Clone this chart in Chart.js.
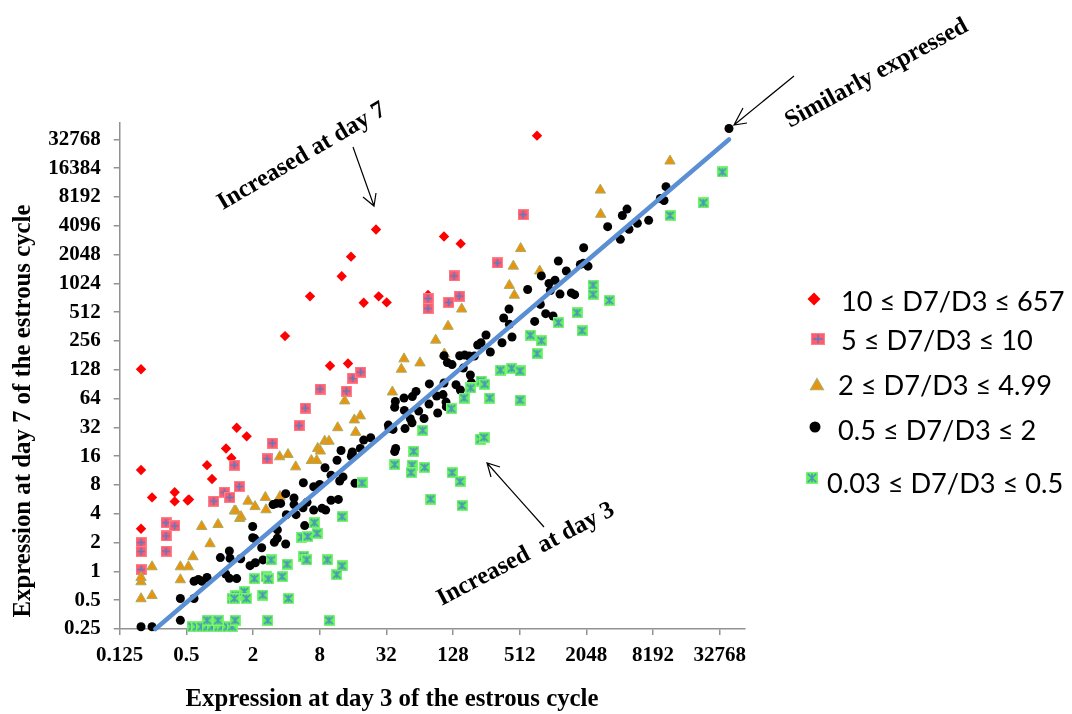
<!DOCTYPE html>
<html>
<head>
<meta charset="utf-8">
<title>Expression at day 3 vs day 7</title>
<script src="https://cdn.jsdelivr.net/npm/chart.js@4"></script>
<style>
    html, body { margin: 0; padding: 0; background: #fff; }
    #wrap { position: relative; width: 1072px; height: 714px; overflow: hidden; filter: blur(0.35px); }
    #canvas { position: absolute; left: 0; top: 0; }
    #arrows { position: absolute; left: 0; top: 0; }
    .note, .axis-title {
        position: absolute;
        font: bold 24.5px "Liberation Serif", serif;
        color: #000;
        white-space: pre;
        transform: translate(-50%, -50%) rotate(var(--turn));
    }
    .axis-title { font-size: 24.8px; }
    .key {
        position: absolute;
        font: 27.2px Lato, sans-serif;
        color: #000;
        white-space: pre;
        transform: translateY(-50%);
    }
</style>
</head>
<body>
<div id="wrap">
    <canvas id="canvas" width="1072" height="714"></canvas>
    <svg id="arrows" width="1072" height="714" fill="none" stroke="#000" stroke-width="1.2">
        <path d="M353 147 L374 206 M363 197 L374 206 L376 193"></path>
        <path d="M794 76 L734 125 M743 108 L734 125 L747 123"></path>
        <path d="M544 527 L487 463 M500 467 L487 463 L491 477"></path>
    </svg>
    <div class="axis-title" style="left:392px;top:698px;--turn:0deg">Expression at day 3 of the estrous cycle</div>
    <div class="axis-title" style="left:22px;top:411px;--turn:-90deg">Expression at day 7 of the estrous cycle</div>
    <div class="note" style="left:301px;top:155px;--turn:-30.5deg">Increased at day 7</div>
    <div class="note" style="left:876px;top:72px;--turn:-28.6deg">Similarly expressed</div>
    <div class="note" style="left:525px;top:553px;--turn:-27.8deg">Increased  at day 3</div>
    <div class="key" style="left:841px;top:300px">10 ≤ D7/D3 ≤ 657</div>
    <div class="key" style="left:841px;top:339px">5 ≤ D7/D3 ≤ 10</div>
    <div class="key" style="left:838px;top:384px">2 ≤ D7/D3 ≤ 4.99</div>
    <div class="key" style="left:838px;top:429px">0.5 ≤ D7/D3 ≤ 2</div>
    <div class="key" style="left:827px;top:482px">0.03 ≤ D7/D3 ≤ 0.5</div>
</div>
<script>
// values, as [log2 day 3, log2 day 7]
const foldOver10 = [
    [-2.36,7.02],[-2.36,3.52],[-2.03,2.57],[-1.35,2.75],[-1.35,2.43],[-0.96,2.46],[-0.92,2.5],[-2.36,1.48],
    [-0.38,3.69],[-0.23,3.21],[0.19,4.27],[0.35,3.94],[0.51,4.99],[0.81,4.69],[1.96,8.17],[2.71,9.55],
    [3.31,7.14],[3.85,7.22],[3.66,10.25],[3.94,10.93],[4.32,9.33],[4.69,11.87],[4.77,9.55],[5.01,9.34],
    [6.25,9.6],[6.73,11.63],[7.23,11.38],[9.52,15.13]
];
const fold5to10 = [
    [-2.36,1.0],[-2.36,0.69],[-2.36,0.06],[-1.61,1.69],[-1.35,1.58],[-1.61,1.23],[-1.61,0.7],[-0.18,2.44],
    [0.14,2.75],[0.3,2.57],[0.44,3.69],[0.59,2.95],[1.42,3.91],[1.58,4.45],[2.38,5.06],[2.57,5.67],
    [3.01,6.33],[3.8,6.26],[3.99,6.71],[4.23,6.92],[6.25,9.48],[6.25,9.13],[6.87,9.34],[7.19,9.56],
    [7.03,10.26],[8.33,10.71],[9.1,12.39]
];
const fold2to5 = [
    [-2.36,-0.36],[-2.36,-0.21],[-2.36,-0.95],[-2.03,0.16],[-2.03,-0.84],[-1.18,0.16],[-0.94,0.16],[-1.18,-0.29],
    [-0.8,0.51],[-0.54,1.56],[-0.29,0.96],[-0.05,1.63],[0.44,2.1],[0.48,2.1],[0.6,1.84],[0.64,1.9],
    [0.85,2.44],[1.06,2.25],[1.37,2.57],[1.39,2.14],[1.81,2.6],[1.8,3.98],[2.05,4.06],[2.28,3.63],
    [2.75,3.85],[2.91,3.85],[2.94,4.27],[3.02,4.18],[3.15,4.52],[3.28,4.52],[3.54,4.99],[3.75,5.92],
    [4.04,5.26],[4.08,4.83],[4.22,5.4],[5.18,6.23],[5.45,7.02],[5.53,7.38],[6.01,7.24],[6.48,8.03],
    [6.74,7.55],[6.85,8.51],[7.26,9.11],[8.69,9.93],[8.84,9.59],[8.81,10.6],[9.03,11.21],[9.6,10.43],
    [11.42,13.24],[11.43,12.4],[13.51,14.25]
];
const foldSimilar = [
    [-2.36,-1.92],[-2.03,-1.92],[-1.18,-1.7],[-1.18,-0.94],[-0.77,-0.94],[-0.77,-0.34],[-0.64,-0.28],[-0.53,-0.34],
    [-0.38,-0.21],[0.02,0.48],[0.29,0.71],[0.31,0.45],[0.18,-0.09],[0.29,-0.24],[0.51,-0.25],[0.63,0.44],
    [0.91,0.2],[1.07,0.3],[1.3,0.4],[1.26,0.82],[0.99,1.17],[1.05,1.14],[0.99,1.56],[1.64,1.01],
    [1.73,1.15],[1.98,0.95],[1.73,1.44],[2.0,1.97],[2.29,1.97],[2.55,1.59],[1.6,2.32],[1.7,2.36],
    [1.83,2.36],[1.98,2.7],[2.23,2.55],[2.23,2.32],[2.5,2.21],[2.62,2.4],[2.51,3.08],[2.82,2.13],
    [3.07,2.19],[3.18,2.13],[3.34,2.47],[3.56,2.5],[2.82,2.94],[3.0,3.02],[3.16,3.6],[3.34,3.34],
    [3.52,3.86],[3.64,4.2],[3.6,3.14],[3.7,3.28],[3.97,4.08],[4.0,3.98],[4.06,3.06],[4.22,4.27],
    [3.98,4.15],[3.95,4.0],[4.32,4.56],[4.53,4.64],[5.06,5.08],[5.2,4.93],[5.08,4.97],[5.56,4.96],
    [5.28,4.27],[5.25,4.16],[5.25,5.7],[5.27,5.9],[5.53,6.02],[5.78,6.07],[5.89,6.25],[5.54,5.59],
    [5.72,5.3],[5.77,5.16],[5.97,5.57],[6.13,5.31],[6.28,5.81],[6.54,5.5],[6.51,6.09],[6.7,6.14],
    [6.79,5.88],[6.8,5.72],[6.29,6.51],[6.73,6.54],[7.09,6.48],[7.22,6.3],[7.52,6.82],[7.55,6.55],
    [7.31,7.06],[6.73,7.49],[6.83,7.25],[6.97,7.18],[7.2,7.49],[7.35,7.51],[7.48,7.48],[7.64,7.48],
    [7.74,7.86],[7.84,7.94],[7.99,8.21],[8.12,7.62],[8.47,7.94],[8.77,8.14],[8.52,8.8],[8.68,9.11],
    [8.69,8.58],[9.24,9.79],[9.45,8.68],[9.62,9.27],[9.78,8.95],[10.0,8.87],[9.65,10.26],[9.88,10.0],
    [10.06,10.11],[9.92,9.75],[10.21,9.63],[10.16,10.78],[10.4,10.43],[10.55,9.67],[10.65,9.61],[10.82,10.66],
    [11.05,10.6],[10.92,11.24],[10.91,10.7],[11.64,11.97],[12.02,11.53],[12.28,11.88],[12.53,12.09],[12.87,12.19],
    [12.08,12.36],[12.22,12.58],[13.22,12.95],[13.33,12.88],[13.39,13.36],[15.28,15.38]
];
const foldUnderHalf = [
    [-0.83,-1.92],[-0.69,-1.92],[-0.55,-1.92],[-0.38,-1.92],[-0.23,-1.92],[-0.03,-1.92],[0.07,-1.92],[0.23,-1.92],
    [0.37,-1.92],[-0.38,-1.7],[-0.05,-1.7],[0.46,-1.7],[1.44,-1.7],[3.28,-1.7],[0.37,-0.94],[0.48,-0.84],
    [0.44,-0.94],[0.74,-0.7],[0.8,-0.94],[1.04,-0.25],[1.29,-0.82],[1.39,-0.19],[1.46,-0.26],[1.87,-0.18],
    [2.06,-0.94],[1.54,0.4],[2.02,0.25],[2.52,0.53],[2.61,0.4],[3.23,0.4],[3.51,-0.11],[3.67,0.19],
    [2.46,1.19],[2.64,1.21],[2.92,1.32],[2.84,1.69],[3.67,1.9],[4.27,3.07],[5.25,3.71],[5.82,4.17],
    [5.77,3.69],[5.74,3.43],[6.15,3.61],[6.33,2.51],[6.97,3.43],[7.21,3.12],[7.27,2.29],[6.09,4.9],
    [6.95,5.65],[7.33,6.02],[7.53,6.37],[7.84,6.61],[7.95,6.5],[8.1,6.02],[7.82,4.59],[7.93,4.65],
    [8.42,6.99],[8.76,7.05],[9.01,6.96],[9.01,5.95],[9.32,8.2],[9.65,8.01],[9.52,7.56],[10.16,8.64],
    [10.72,8.98],[10.87,8.36],[11.2,9.94],[11.2,9.62],[11.69,9.41],[13.51,12.36],[14.51,12.8],[15.08,13.87]
];
const trendLine = [[-1.93,-2],[15.28,15.0]];

const xTicks = [0.125, 0.5, 2, 8, 32, 128, 512, 2048, 8192, 32768];
const yTicks = [0.25, 0.5, 1, 2, 4, 8, 16, 32, 64, 128, 256, 512, 1024, 2048, 4096, 8192, 16384, 32768];

const toPoints = list => list.map(p => ({x: 2 ** p[0], y: 2 ** p[1]}));

// pink and green tiles have a glyph on them, so they are small canvases
function tile(w, h, fill, edge, ink, glyph) {
    let c = document.createElement('canvas');
    c.width = w + 2;
    c.height = h + 2;
    let g = c.getContext('2d');
    g.fillStyle = edge;
    g.fillRect(0, 0, w + 2, h + 2);
    g.fillStyle = fill;
    g.fillRect(1, 1, w, h);
    g.strokeStyle = ink;
    g.lineWidth = 1.6;
    let cx = c.width / 2, cy = c.height / 2, rx = w * 0.42, ry = h * 0.42;
    g.beginPath();
    if (glyph == 'plus') {
        g.moveTo(cx - rx, cy); g.lineTo(cx + rx, cy);
        g.moveTo(cx, cy - ry); g.lineTo(cx, cy + ry);
    } else {
        g.moveTo(cx - rx, cy - ry); g.lineTo(cx + rx, cy + ry);
        g.moveTo(cx + rx, cy - ry); g.lineTo(cx - rx, cy + ry);
        g.moveTo(cx, cy - ry); g.lineTo(cx, cy + ry);
    }
    g.stroke();
    return c;
}

const pink = ['#ff5c6c', '#ff7f8b', '#5b79c4', 'plus'];
const green = ['#62f258', '#7cf474', '#4a97bc', 'star'];
const redColor = '#ff0000';
const orangeColor = '#ea940c';
const oliveColor = '#a9ad64';
const lineColor = '#5b8fd4';
const axisColor = '#929292';

const legendKeys = {
    id: 'legendKeys',
    afterDatasetsDraw(chart) {
        let ctx = chart.ctx;
        ctx.save();
        ctx.fillStyle = redColor; ctx.strokeStyle = redColor; ctx.lineWidth = 1;
        Chart.helpers.drawPoint(ctx, {pointStyle: 'rectRot', radius: 6.5, borderWidth: 0}, 814, 299);
        ctx.drawImage(tile(12, 10, ...pink), 811, 333);
        ctx.fillStyle = orangeColor; ctx.strokeStyle = oliveColor; ctx.lineWidth = 1.2;
        Chart.helpers.drawPoint(ctx, {pointStyle: 'triangle', radius: 7.5, borderWidth: 1.2}, 817, 386);
        ctx.fillStyle = '#000'; ctx.strokeStyle = '#000';
        Chart.helpers.drawPoint(ctx, {pointStyle: 'circle', radius: 5.5, borderWidth: 0}, 815, 427);
        ctx.drawImage(tile(10, 10, ...green), 806, 472);
        ctx.restore();
    }
};

function pointSet(label, list, order, style) {
    return Object.assign({label: label, data: toPoints(list), order: order, showLine: false, clip: false}, style);
}

const axis = (ticks, min, max, size, pad) => ({
    type: 'logarithmic',
    min: min,
    max: max,
    afterBuildTicks: s => { s.ticks = ticks.map(v => ({value: v})); },
    afterFit: s => { if (s.isHorizontal()) s.height = size; else s.width = size; },
    border: {display: true, color: axisColor, width: 1.5},
    grid: {display: true, drawOnChartArea: false, drawTicks: true, tickLength: 6, color: axisColor, lineWidth: 1.5},
    ticks: {
        autoSkip: false,
        maxRotation: 0,
        color: '#000',
        padding: pad,
        font: {family: '"Liberation Serif"', size: 21, weight: 'bold'},
        callback: v => String(v)
    }
});

new Chart(document.getElementById('canvas'), {
    type: 'scatter',
    data: {
        datasets: [
            {label: 'Trend', data: toPoints(trendLine), order: 0, showLine: true, clip: false,
                borderColor: lineColor, borderWidth: 4.5, borderCapStyle: 'round', pointRadius: 0},
            pointSet('0.03 ≤ D7/D3 ≤ 0.5', foldUnderHalf, 1, {pointStyle: tile(9, 9, ...green), pointRadius: 5}),
            pointSet('0.5 ≤ D7/D3 ≤ 2', foldSimilar, 2, {pointStyle: 'circle', pointRadius: 4.5, backgroundColor: '#000', borderWidth: 0}),
            pointSet('2 ≤ D7/D3 ≤ 4.99', fold2to5, 3, {pointStyle: 'triangle', pointRadius: 6, backgroundColor: orangeColor, borderColor: oliveColor, borderWidth: 1}),
            pointSet('5 ≤ D7/D3 ≤ 10', fold5to10, 4, {pointStyle: tile(9, 9, ...pink), pointRadius: 5}),
            pointSet('10 ≤ D7/D3 ≤ 657', foldOver10, 5, {pointStyle: 'rectRot', pointRadius: 5.2, backgroundColor: redColor, borderWidth: 0})
        ]
    },
    options: {
        responsive: false,
        animation: false,
        layout: {padding: {left: 0, right: 327, top: 123, bottom: 0}},
        plugins: {legend: {display: false}, title: {display: false}, tooltip: {enabled: false}},
        scales: {
            x: axis(xTicks, 0.125, 2 ** 15.76, 85, 8),
            y: axis(yTicks, 0.25, 2 ** 15.57, 119.7, 13)
        }
    },
    plugins: [legendKeys]
});
</script>
</body>
</html>
